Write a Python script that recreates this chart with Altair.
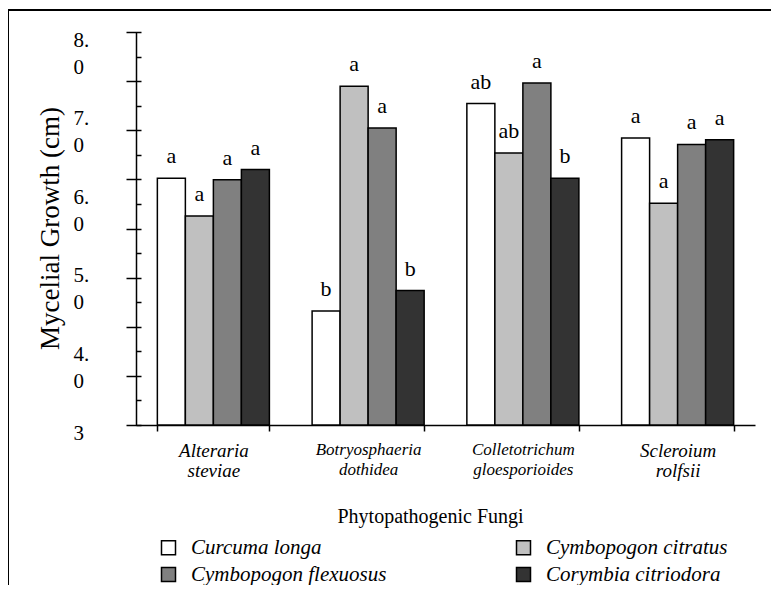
import altair as alt
import pandas as pd

# ---- data ----
fungi = ["Alteraria steviae", "Botryosphaeria dothidea",
         "Colletotrichum gloesporioides", "Scleroium rolfsii"]
extracts = ["Curcuma longa", "Cymbopogon citratus",
            "Cymbopogon flexuosus", "Corymbia citriodora"]
legend_order = ["Curcuma longa", "Cymbopogon flexuosus",
                "Cymbopogon citratus", "Corymbia citriodora"]
curcuma_longa = [6.14, 4.45, 7.09, 6.65]
cymbopogon_citratus = [5.66, 7.31, 6.46, 5.82]
cymbopogon_flexuosus = [6.12, 6.78, 7.35, 6.57]
corymbia_citriodora = [6.25, 4.71, 6.14, 6.63]
letters_curcuma = ["a", "b", "ab", "a"]
letters_citratus = ["a", "a", "ab", "a"]
letters_flexuosus = ["a", "a", "a", "a"]
letters_corymbia = ["a", "b", "b", "a"]
legend_colors = ["#ffffff", "#808080", "#c0c0c0", "#333333"]
y_label_values = [3, 4, 5, 6, 7, 8]
y_tick_values = [3 + k * 0.3125 for k in range(17)]

series_values = [curcuma_longa, cymbopogon_citratus, cymbopogon_flexuosus, corymbia_citriodora]
series_letters = [letters_curcuma, letters_citratus, letters_flexuosus, letters_corymbia]

rows = []
for s, vals, lets in zip(extracts, series_values, series_letters):
    for f, v, l in zip(fungi, vals, lets):
        rows.append({"fungus": f, "extract": s, "growth": v, "letter": l})
df = pd.DataFrame(rows)

SERIF = "Liberation Serif"

x_enc = alt.X(
    "fungus:N", sort=fungi,
    scale=alt.Scale(paddingInner=0.276, paddingOuter=0.138),
    axis=alt.Axis(
        title="Phytopathogenic Fungi", tickBand="extent",
        labelExpr="split(datum.label, ' ')", labelAngle=0,
        labelFont=SERIF, labelFontStyle="italic",
        labelFontSize={"condition": {"test": "length(datum.label) > 20", "value": 17}, "value": 19},
        labelLineHeight=20, labelColor="black", labelPadding=10,
        labelBaseline="top",
        tickSize=6, tickColor="black", tickWidth=1.5,
        domainColor="black", domainWidth=1.5, grid=False,
        titleFont=SERIF, titleFontSize=20, titleFontWeight="normal",
        titleColor="black", titleX=294, titleY=97, titleAlign="center",
        titleBaseline="alphabetic",
    ),
)
xoff_enc = alt.XOffset("extract:N", sort=extracts,
                       scale=alt.Scale(paddingInner=0, paddingOuter=0))

y_scale = alt.Scale(domain=[3, 8], zero=False, nice=False)

base = alt.Chart(df).encode(x=x_enc, xOffset=xoff_enc)

bars = base.mark_bar(stroke="black", strokeWidth=1.5, opacity=1).encode(
    y=alt.Y("growth:Q", scale=y_scale, stack=None,
            axis=alt.Axis(orient="left", values=y_tick_values, offset=-5,
                          domain=False, labels=False, title=None, grid=False,
                          tickColor="black", tickWidth=1.5,
                          tickSize={"condition": {"test": "round((datum.value - 3) / 0.3125) % 2 == 0", "value": 15}, "value": 5})),
    color=alt.Color(
        "extract:N",
        scale=alt.Scale(domain=legend_order, range=legend_colors),
        legend=alt.Legend(
            title=None, orient="none", legendX=22, legendY=505,
            columns=2, columnPadding=126, rowPadding=5,
            symbolType="square", symbolSize=196, symbolStrokeColor="black",
            symbolStrokeWidth=1.5, symbolOpacity=1,
            labelFont=SERIF, labelFontStyle="italic", labelFontSize=21,
            labelColor="black", labelOffset=12, labelLimit=400,
        ),
    ),
)

texts = base.mark_text(font=SERIF, fontSize=22, baseline="alphabetic",
                       dy=-15, color="black").encode(
    y=alt.Y("growth:Q", scale=y_scale,
            axis=alt.Axis(orient="left", values=y_label_values, ticks=False,
                          tickSize=0, domain=True, domainColor="black",
                          domainWidth=1.5, grid=False,
                          labelExpr="datum.value == 3 ? '3' : [format(datum.value, 'd') + '.', '0']",
                          labelAlign="left", labelBaseline="top",
                          labelPadding=63, labelOffset=-3, labelOverlap=False,
                          labelFont=SERIF, labelFontSize=21, labelLineHeight=27,
                          labelColor="black",
                          title="Mycelial Growth (cm)", titleFont=SERIF,
                          titleFontSize=27, titleFontWeight="normal",
                          titleColor="black", titleX=-78, titleY=196,
                          titleAngle=270, titleAlign="center",
                          titleBaseline="alphabetic")),
    text="letter:N",
)

one = pd.DataFrame({"k": [0]})
frame_top = alt.Chart(one).mark_rule(color="black", strokeWidth=2).encode(
    x=alt.value(-128), x2=alt.value(660), y=alt.value(-22))
frame_left = alt.Chart(one).mark_rule(color="black", strokeWidth=2).encode(
    x=alt.value(-128), y=alt.value(-22), y2=alt.value(580))

chart = alt.layer(frame_top, frame_left, bars, texts).resolve_axis(
    y="independent"
).properties(
    width=619, height=393,
    padding={"left": 128, "top": 24, "right": 16, "bottom": 160},
    autosize=alt.AutoSizeParams(type="none"),
    background="white",
).configure_view(stroke=None)

chart.save("out.html", embed_options={"renderer": "svg", "actions": False})
